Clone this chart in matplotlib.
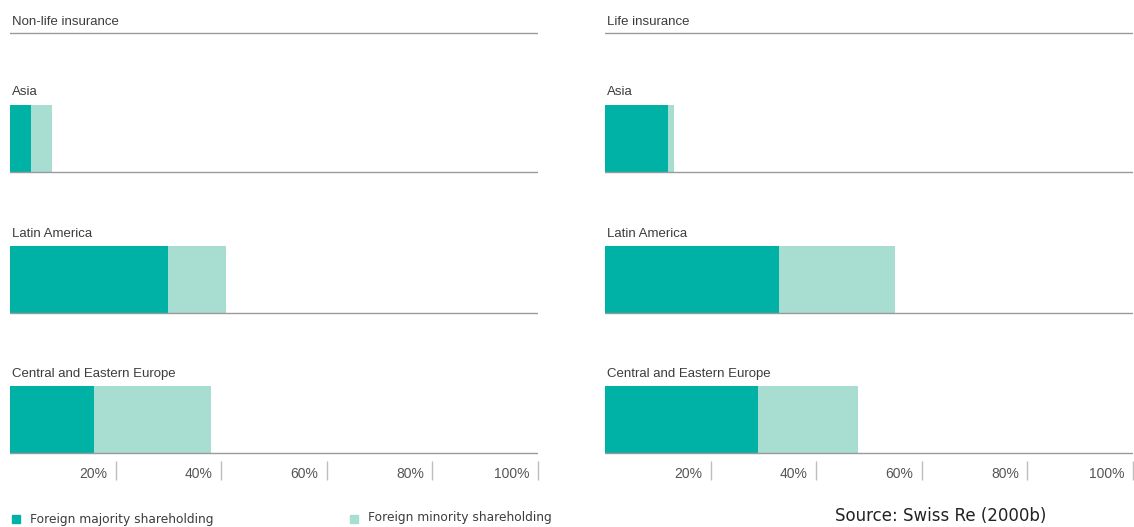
import numpy as np
import matplotlib
matplotlib.use("Agg")
from matplotlib import pyplot as plt

# data (percent of market)
regions = ['Asia', 'Latin America', 'Central and Eastern Europe']
panels = ['Non-life insurance', 'Life insurance']
majority = {'Non-life insurance': [4, 30, 16],
            'Life insurance': [12, 33, 29]}
minority = {'Non-life insurance': [4, 11, 22],
            'Life insurance': [1, 22, 19]}
ticks = [20, 40, 60, 80, 100]
tick_labels = ['20%', '40%', '60%', '80%', '100%']

c_major = '#00b2a5'
c_minor = '#a8ddd1'
c_line = '#9a9a9a'
c_text = '#3c3c3c'

plt.rcParams['font.family'] = ['Liberation Sans', 'DejaVu Sans']

W, H = 1134, 527
fig = plt.figure(figsize=(W / 100, H / 100), dpi=100)

# axes work in "pixel rows" vertically so layout follows the reference
y_top, y_bot = 8, 484
lefts = [10, 605]
bar_h = 67
base = [172, 313, 453]   # baseline of each bar row
lab_y = [92, 234, 374]

for p, x0 in zip(panels, lefts):
    ax = fig.add_axes([x0 / W, (H - y_bot) / H, 528 / W, (y_bot - y_top) / H])
    ax.set_xlim(0, 100)
    ax.set_ylim(y_bot, y_top)
    ax.axis('off')

    ax.text(0.3, 22, p, fontsize=9.5, color=c_text, va='center', ha='left')
    ax.axhline(33, color=c_line, lw=1)

    for i, r in enumerate(regions):
        yc = base[i] - bar_h / 2
        ax.barh(yc, majority[p][i], height=bar_h, color=c_major, lw=0)
        ax.barh(yc, minority[p][i], left=majority[p][i], height=bar_h,
                color=c_minor, lw=0)
        ax.axhline(base[i], color=c_line, lw=1)
        ax.text(0.3, lab_y[i], r, fontsize=9.5, color=c_text, va='center', ha='left')

    ax.vlines(ticks, 461, 480, color='#bdbdbd', lw=1, clip_on=False)
    for t, tl in zip(ticks, tick_labels):
        ax.text(t - 1.6, 474, tl, fontsize=10, color='#555555', va='center', ha='right')

# legend
fig.patches.append(plt.Rectangle((12 / W, (H - 523) / H), 8 / W, 8 / H,
                                 transform=fig.transFigure, color=c_major))
fig.text(30 / W, (H - 519) / H, 'Foreign majority shareholding', fontsize=8.8,
         color=c_text, va='center', family=['DejaVu Sans'])
fig.patches.append(plt.Rectangle((350 / W, (H - 523) / H), 8 / W, 8 / H,
                                 transform=fig.transFigure, color=c_minor))
fig.text(368 / W, (H - 517) / H, 'Foreign minority shareholding', fontsize=8.8,
         color=c_text, va='center', family=['DejaVu Sans'])

fig.text(835 / W, 2 / H, 'Source: Swiss Re (2000b)', fontsize=12,
         color='#222222', va='bottom', family=['DejaVu Sans'])

fig.savefig('out.png', dpi=100, facecolor='white')
